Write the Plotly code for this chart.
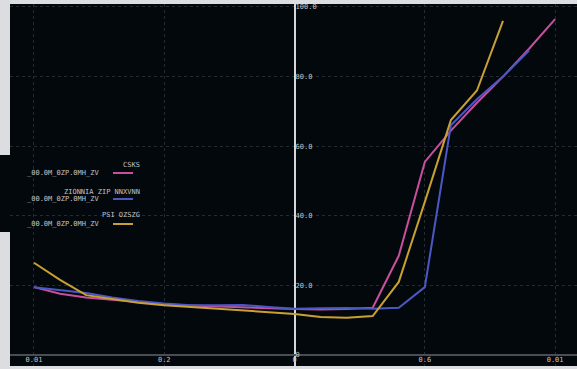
import plotly.graph_objects as go

# Sample positions
x_vals = list(range(-10, 11))

# Series values
pink_vals = [19.5, 17.6, 16.5, 15.8, 15.2, 14.6, 14.2, 13.9, 13.6, 13.4, 13.2,
             13.1, 13.2, 13.6, 28.5, 55.5, 64.5, 72.5, 80.0, 88.0, 96.5]
blue_vals = [19.5, 18.6, 17.8, 16.5, 15.5, 14.8, 14.3, 14.3, 14.4, 13.8, 13.3,
             13.4, 13.5, 13.3, 13.6, 19.5, 66.0, 73.5, 80.0, 87.5]
gold_vals = [26.5, 21.6, 17.2, 16.0, 15.0, 14.3, 13.8, 13.3, 12.7, 12.3, 11.8,
             10.9, 10.7, 11.2, 21.0, 44.0, 67.5, 76.0, 96.0]

series_titles = ["CSKS", "ZIONNIA ZIP NNXVNN", "PSI OZSZG"]
series_sub = ["_00.0M_0ZP.0MH_ZV", "_00.0M_0ZP.0MH_ZV", "_00.0M_0ZP.0MH_ZV"]
series_colors = ["#c94f9e", "#4b58c4", "#c9a033"]

x_tick_vals = [-10, -5, 0, 5, 10]
x_tick_text = ["0.01", "0.2", "0", "0.6", "0.01"]
y_tick_vals = [0, 20, 40, 60, 80, 100]
y_tick_text = ["0", "20.0", "40.0", "60.0", "80.0", "100.0"]

X_RANGE = [-10.92, 10.84]
Y_RANGE = [-3.16, 100.86]

W, H = 577, 369
ML, MR, MT, MB = 10, 0, 4, 3
PW, PH = W - ML - MR, H - MT - MB

BG = "#03080d"
TXT = "#c2c4c7"
FONT = "DejaVu Sans Mono"


def px_x(p):
    return (p - ML) / PW


def px_y(p):
    return (H - MB - p) / PH


fig = go.Figure()
for xs, ys, c in [(x_vals[:len(pink_vals)], pink_vals, series_colors[0]),
                  (x_vals[:len(blue_vals)], blue_vals, series_colors[1]),
                  (x_vals[:len(gold_vals)], gold_vals, series_colors[2])]:
    fig.add_trace(go.Scatter(x=xs, y=ys, mode="lines",
                             line=dict(color=c, width=2), showlegend=False,
                             hoverinfo="skip"))

# Legend block on the left: title line, then sub line with a swatch
shapes = [dict(type="rect", xref="paper", yref="paper",
               x0=px_x(0), x1=px_x(148), y0=px_y(232), y1=px_y(155),
               fillcolor=BG, line=dict(width=0), layer="below")]
annotations = []
title_y = [165, 192, 215]
sub_y = [173, 199, 224]
for i in range(3):
    annotations.append(dict(xref="paper", yref="paper", x=px_x(142), y=px_y(title_y[i]),
                            text=series_titles[i], showarrow=False, xanchor="right",
                            yanchor="middle", font=dict(family=FONT, size=7, color=TXT)))
    annotations.append(dict(xref="paper", yref="paper", x=px_x(101), y=px_y(sub_y[i]),
                            text=series_sub[i], showarrow=False, xanchor="right",
                            yanchor="middle", font=dict(family=FONT, size=7, color=TXT)))
    shapes.append(dict(type="line", xref="paper", yref="paper",
                       x0=px_x(113), x1=px_x(133), y0=px_y(sub_y[i]), y1=px_y(sub_y[i]),
                       line=dict(color=series_colors[i], width=2)))

y_axis_pos = (0 - X_RANGE[0]) / (X_RANGE[1] - X_RANGE[0])

fig.update_layout(
    width=W, height=H,
    margin=dict(l=ML, r=MR, t=MT, b=MB, pad=0),
    paper_bgcolor="#dcdde0",
    plot_bgcolor=BG,
    font=dict(family=FONT, size=7, color=TXT),
    xaxis=dict(range=X_RANGE, tickvals=x_tick_vals, ticktext=x_tick_text,
               showgrid=True, gridcolor="#262b31", griddash="dot", gridwidth=1,
               zeroline=True, zerolinecolor="#d4d6d8", zerolinewidth=1.5,
               ticks="", ticklabelposition="inside", showline=False,
               tickfont=dict(family=FONT, size=7, color=TXT)),
    yaxis=dict(range=Y_RANGE, tickvals=y_tick_vals, ticktext=y_tick_text,
               showgrid=True, gridcolor="#262b31", griddash="dot", gridwidth=1,
               zeroline=True, zerolinecolor="#4a4e54", zerolinewidth=2,
               anchor="free", position=y_axis_pos, side="right",
               ticks="", showline=False,
               tickfont=dict(family=FONT, size=7, color=TXT)),
    shapes=shapes,
    annotations=annotations,
)

fig.write_html("out.html")
